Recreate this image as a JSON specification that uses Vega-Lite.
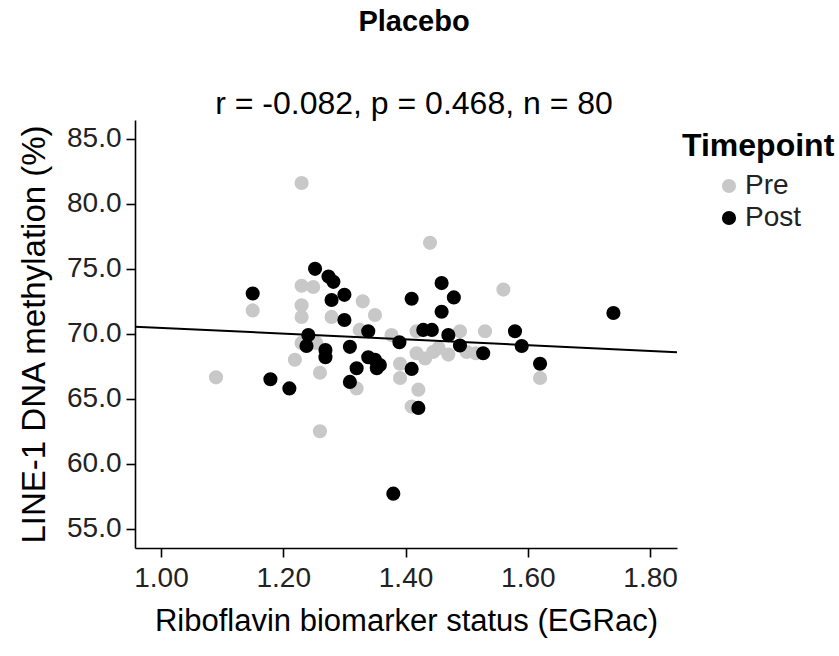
{
  "$schema": "https://vega.github.io/schema/vega-lite/v6.json",
  "width": 542,
  "height": 428,
  "autosize": "none",
  "padding": {"left": 135, "top": 120, "right": 162, "bottom": 108},
  "background": "white",
  "config": {
    "font": "Liberation Sans",
    "view": {"stroke": null},
    "axis": {"grid": false, "domainColor": "#000000", "domainWidth": 1.6, "tickColor": "#000000", "tickWidth": 1.6, "tickSize": 9, "labelColor": "#222222", "labelFontSize": 28, "titleFontSize": 31, "titleFontWeight": "normal", "titleColor": "#000000", "labelFont": "Liberation Sans", "titleFont": "Liberation Sans"}
  },
  "title": {
    "text": "Placebo",
    "subtitle": "r = -0.082, p = 0.468, n = 80",
    "anchor": "middle",
    "frame": "group",
    "fontSize": 29,
    "fontWeight": "bold",
    "color": "#000000",
    "subtitleFontSize": 32,
    "subtitleColor": "#000000",
    "subtitleFont": "Liberation Sans",
    "subtitlePadding": 52,
    "offset": 0,
    "dx": 8
  },
  "datasets": {
    "pts": [
      {"egrac": 1.230, "line1": 81.6, "timepoint": "Pre"},
      {"egrac": 1.150, "line1": 71.8, "timepoint": "Pre"},
      {"egrac": 1.230, "line1": 73.7, "timepoint": "Pre"},
      {"egrac": 1.249, "line1": 73.6, "timepoint": "Pre"},
      {"egrac": 1.230, "line1": 72.2, "timepoint": "Pre"},
      {"egrac": 1.230, "line1": 71.3, "timepoint": "Pre"},
      {"egrac": 1.279, "line1": 71.3, "timepoint": "Pre"},
      {"egrac": 1.330, "line1": 72.5, "timepoint": "Pre"},
      {"egrac": 1.350, "line1": 71.45, "timepoint": "Pre"},
      {"egrac": 1.440, "line1": 77.0, "timepoint": "Pre"},
      {"egrac": 1.560, "line1": 73.4, "timepoint": "Pre"},
      {"egrac": 1.418, "line1": 70.2, "timepoint": "Pre"},
      {"egrac": 1.489, "line1": 70.2, "timepoint": "Pre"},
      {"egrac": 1.530, "line1": 70.2, "timepoint": "Pre"},
      {"egrac": 1.418, "line1": 68.5, "timepoint": "Pre"},
      {"egrac": 1.432, "line1": 68.1, "timepoint": "Pre"},
      {"egrac": 1.445, "line1": 68.6, "timepoint": "Pre"},
      {"egrac": 1.454, "line1": 68.9, "timepoint": "Pre"},
      {"egrac": 1.470, "line1": 68.4, "timepoint": "Pre"},
      {"egrac": 1.500, "line1": 68.6, "timepoint": "Pre"},
      {"egrac": 1.515, "line1": 68.5, "timepoint": "Pre"},
      {"egrac": 1.391, "line1": 67.7, "timepoint": "Pre"},
      {"egrac": 1.620, "line1": 66.6, "timepoint": "Pre"},
      {"egrac": 1.391, "line1": 66.6, "timepoint": "Pre"},
      {"egrac": 1.421, "line1": 65.7, "timepoint": "Pre"},
      {"egrac": 1.230, "line1": 69.3, "timepoint": "Pre"},
      {"egrac": 1.254, "line1": 69.3, "timepoint": "Pre"},
      {"egrac": 1.219, "line1": 68.0, "timepoint": "Pre"},
      {"egrac": 1.260, "line1": 67.0, "timepoint": "Pre"},
      {"egrac": 1.090, "line1": 66.65, "timepoint": "Pre"},
      {"egrac": 1.260, "line1": 62.5, "timepoint": "Pre"},
      {"egrac": 1.320, "line1": 65.8, "timepoint": "Pre"},
      {"egrac": 1.325, "line1": 70.3, "timepoint": "Pre"},
      {"egrac": 1.377, "line1": 69.9, "timepoint": "Pre"},
      {"egrac": 1.410, "line1": 64.4, "timepoint": "Pre"},
      {"egrac": 1.252, "line1": 75.0, "timepoint": "Post"},
      {"egrac": 1.150, "line1": 73.1, "timepoint": "Post"},
      {"egrac": 1.274, "line1": 74.4, "timepoint": "Post"},
      {"egrac": 1.282, "line1": 74.0, "timepoint": "Post"},
      {"egrac": 1.279, "line1": 72.6, "timepoint": "Post"},
      {"egrac": 1.300, "line1": 73.0, "timepoint": "Post"},
      {"egrac": 1.300, "line1": 71.06, "timepoint": "Post"},
      {"egrac": 1.410, "line1": 72.7, "timepoint": "Post"},
      {"egrac": 1.459, "line1": 73.9, "timepoint": "Post"},
      {"egrac": 1.479, "line1": 72.8, "timepoint": "Post"},
      {"egrac": 1.459, "line1": 71.7, "timepoint": "Post"},
      {"egrac": 1.740, "line1": 71.6, "timepoint": "Post"},
      {"egrac": 1.429, "line1": 70.3, "timepoint": "Post"},
      {"egrac": 1.443, "line1": 70.3, "timepoint": "Post"},
      {"egrac": 1.579, "line1": 70.2, "timepoint": "Post"},
      {"egrac": 1.470, "line1": 69.9, "timepoint": "Post"},
      {"egrac": 1.390, "line1": 69.35, "timepoint": "Post"},
      {"egrac": 1.489, "line1": 69.1, "timepoint": "Post"},
      {"egrac": 1.590, "line1": 69.06, "timepoint": "Post"},
      {"egrac": 1.527, "line1": 68.5, "timepoint": "Post"},
      {"egrac": 1.620, "line1": 67.7, "timepoint": "Post"},
      {"egrac": 1.410, "line1": 67.3, "timepoint": "Post"},
      {"egrac": 1.421, "line1": 64.3, "timepoint": "Post"},
      {"egrac": 1.241, "line1": 69.9, "timepoint": "Post"},
      {"egrac": 1.238, "line1": 69.06, "timepoint": "Post"},
      {"egrac": 1.269, "line1": 68.75, "timepoint": "Post"},
      {"egrac": 1.269, "line1": 68.2, "timepoint": "Post"},
      {"egrac": 1.309, "line1": 69.0, "timepoint": "Post"},
      {"egrac": 1.339, "line1": 70.2, "timepoint": "Post"},
      {"egrac": 1.339, "line1": 68.2, "timepoint": "Post"},
      {"egrac": 1.350, "line1": 68.0, "timepoint": "Post"},
      {"egrac": 1.358, "line1": 67.6, "timepoint": "Post"},
      {"egrac": 1.353, "line1": 67.35, "timepoint": "Post"},
      {"egrac": 1.320, "line1": 67.35, "timepoint": "Post"},
      {"egrac": 1.309, "line1": 66.3, "timepoint": "Post"},
      {"egrac": 1.179, "line1": 66.5, "timepoint": "Post"},
      {"egrac": 1.210, "line1": 65.8, "timepoint": "Post"},
      {"egrac": 1.380, "line1": 57.7, "timepoint": "Post"}
    ],
    "fit": [
      {"egrac": 0.9575, "line1": 70.55},
      {"egrac": 1.844, "line1": 68.58}
    ]
  },
  "layer": [
    {
      "data": {"name": "pts"},
      "mark": {"type": "circle", "size": 200, "opacity": 1},
      "encoding": {
        "x": {"field": "egrac", "type": "quantitative", "scale": {"domain": [0.9575, 1.844], "nice": false, "zero": false},
          "axis": {"title": "Riboflavin biomarker status (EGRac)", "values": [1.0, 1.2, 1.4, 1.6, 1.8], "format": ".2f", "labelPadding": 7, "titlePadding": 14}},
        "y": {"field": "line1", "type": "quantitative", "scale": {"domain": [53.52, 86.45], "nice": false, "zero": false},
          "axis": {"title": "LINE-1 DNA methylation (%)", "titleFontSize": 33, "values": [55, 60, 65, 70, 75, 80, 85], "format": ".1f", "labelPadding": 5, "titlePadding": 15}},
        "color": {"field": "timepoint", "type": "nominal", "sort": ["Pre", "Post"],
          "scale": {"domain": ["Pre", "Post"], "range": ["#c8c8c8", "#000000"]},
          "legend": {"title": "Timepoint", "orient": "none", "legendX": 547, "legendY": 11, "titleFontSize": 32, "titleFontWeight": "bold", "titleColor": "#000000", "labelFontSize": 28, "labelColor": "#222222", "symbolType": "circle", "symbolSize": 200, "symbolOffset": 33, "labelOffset": 2, "rowPadding": 4, "titlePadding": 9, "symbolStrokeWidth": 0}}
      }
    },
    {
      "data": {"name": "fit"},
      "mark": {"type": "line", "color": "#000000", "strokeWidth": 2, "clip": true},
      "encoding": {
        "x": {"field": "egrac", "type": "quantitative"},
        "y": {"field": "line1", "type": "quantitative"}
      }
    }
  ]
}
